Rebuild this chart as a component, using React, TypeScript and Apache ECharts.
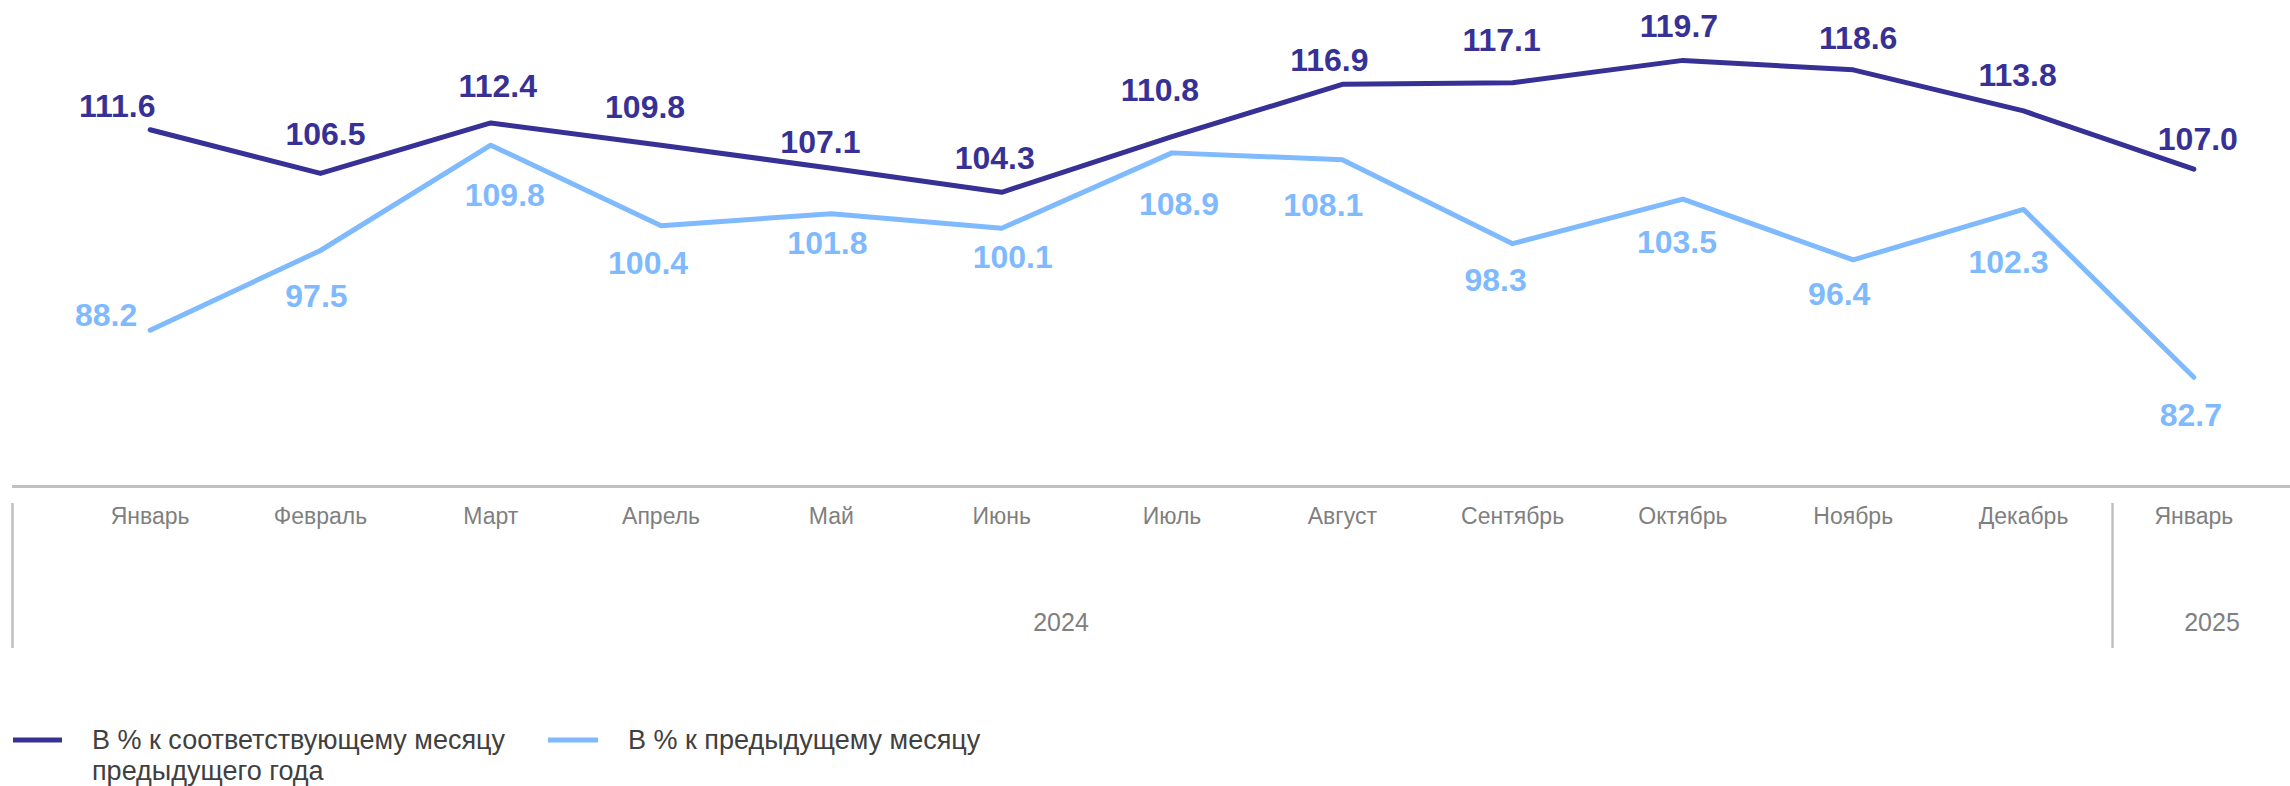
import React, { useEffect, useRef } from "react";
import * as echarts from "echarts";

const categories = ["Январь", "Февраль", "Март", "Апрель", "Май", "Июнь", "Июль", "Август", "Сентябрь", "Октябрь", "Ноябрь", "Декабрь", "Январь"];
const years = ["2024", "2025"];
const seriesNames = ["В % к соответствующему месяцу\nпредыдущего года", "В % к предыдущему месяцу"];
const yoyValues = [111.6, 106.5, 112.4, 109.8, 107.1, 104.3, 110.8, 116.9, 117.1, 119.7, 118.6, 113.8, 107.0];
const momValues = [88.2, 97.5, 109.8, 100.4, 101.8, 100.1, 108.9, 108.1, 98.3, 103.5, 96.4, 102.3, 82.7];

// label placement (pixel offsets from each point), kept separate from the data
const yoyLabelOffsets = [[-33, -24], [5, -39], [7, -37], [-16, -38], [-11, -26], [-7, -34], [-12, -47], [-13, -24], [-11, -43], [-4, -34], [5, -32], [-6, -36], [4, -30]];
const momLabelOffsets = [[-44, -15], [-4, 45], [14, 50], [-13, 37], [-4, 29], [11, 29], [7, 51], [-19, 45], [-17, 36], [-6, 43], [-14, 34], [-15, 53], [-3, 38]];

const DARK = "#373196";
const LIGHT = "#7fbaff";
const GRAY = "#7f7f7f";
const RULE = "#c0c0c0";
const FONT = "'Liberation Sans', Arial, sans-serif";

export default function App() {
  const ref = useRef<HTMLDivElement>(null);
  useEffect(() => {
    if (!ref.current) return;
    const chart = echarts.init(ref.current, undefined, { renderer: "svg" });
    const mk = (vals: number[], offs: number[][]) =>
      vals.map((v, i) => ({ value: v, label: { offset: offs[i] } }));
    const labelStyle = (color: string) => ({
      show: true,
      position: "inside",
      align: "center",
      verticalAlign: "middle",
      color,
      fontSize: 32,
      fontWeight: "bold",
      fontFamily: FONT,
      formatter: (p: any) => Number(p.value).toFixed(1),
    });
    const option: any = {
      animation: false,
      backgroundColor: "#ffffff",
      textStyle: { fontFamily: FONT },
      grid: { left: 65, right: 11, top: 15, bottom: 300, containLabel: false },
      xAxis: {
        type: "category",
        data: categories,
        boundaryGap: true,
        axisLine: { show: false },
        axisTick: { show: false },
        axisLabel: { color: GRAY, fontSize: 23, fontFamily: FONT, margin: 18, interval: 0 },
        splitLine: { show: false },
      },
      yAxis: { type: "value", min: 70, max: 125, show: false, splitLine: { show: false } },
      series: [
        {
          name: seriesNames[0],
          type: "line",
          data: mk(yoyValues, yoyLabelOffsets),
          symbol: "circle",
          symbolSize: 1,
          itemStyle: { color: DARK },
          lineStyle: { color: DARK, width: 5, cap: "round", join: "round" },
          label: labelStyle(DARK),
          z: 3,
        },
        {
          name: seriesNames[1],
          type: "line",
          data: mk(momValues, momLabelOffsets),
          symbol: "circle",
          symbolSize: 1,
          itemStyle: { color: LIGHT },
          lineStyle: { color: LIGHT, width: 5, cap: "round", join: "round" },
          label: labelStyle(LIGHT),
          z: 2,
        },
      ],
      graphic: [
        { type: "line", shape: { x1: 12, y1: 486.5, x2: 2290, y2: 486.5 }, style: { stroke: RULE, lineWidth: 3 } },
        { type: "line", shape: { x1: 12.5, y1: 503, x2: 12.5, y2: 648 }, style: { stroke: RULE, lineWidth: 2.5 } },
        { type: "line", shape: { x1: 2112.5, y1: 503, x2: 2112.5, y2: 648 }, style: { stroke: RULE, lineWidth: 2.5 } },
        { type: "text", x: 1061, y: 622, style: { text: years[0], fill: GRAY, font: `25px ${FONT}`, textAlign: "center", textVerticalAlign: "middle" } },
        { type: "text", x: 2212, y: 622, style: { text: years[1], fill: GRAY, font: `25px ${FONT}`, textAlign: "center", textVerticalAlign: "middle" } },
        { type: "rect", shape: { x: 13, y: 737.5, width: 49, height: 5 }, style: { fill: DARK } },
        { type: "text", x: 92, y: 724, style: { text: seriesNames[0], fill: "#404040", font: `27px ${FONT}`, lineHeight: 31, textVerticalAlign: "top" } },
        { type: "rect", shape: { x: 548, y: 737.5, width: 50, height: 5 }, style: { fill: LIGHT } },
        { type: "text", x: 628, y: 724, style: { text: seriesNames[1], fill: "#404040", font: `27px ${FONT}`, lineHeight: 31, textVerticalAlign: "top" } },
      ],
    };
    chart.setOption(option);
    return () => chart.dispose();
  }, []);
  return <div ref={ref} style={{ position: "fixed", left: 0, top: 0, width: 2290, height: 786 }} />;
}
